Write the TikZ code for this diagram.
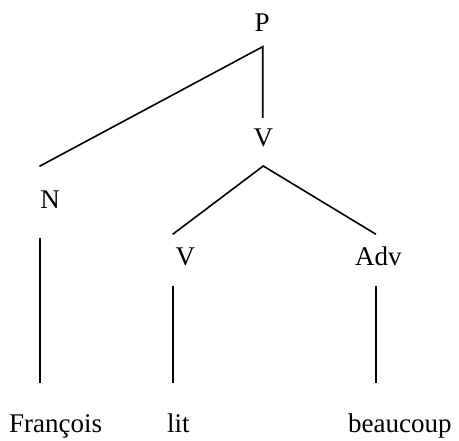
\documentclass[tikz,border=0pt]{standalone}
\usepackage{fontspec}
\setmainfont{Liberation Serif}
\begin{document}
\begin{tikzpicture}[x=1pt,y=-1pt,
  lbl/.style={anchor=base west,inner sep=0pt,font=\fontsize{27}{31}\selectfont},
  edge/.style={line width=1.6pt}]
\useasboundingbox (0,0) rectangle (459,441);
% labels
\node[lbl] (P) at (254.5,32) {P};
\node[lbl] (V1) at (253.3,147) {V};
\node[lbl] (N) at (40.3,208.3) {N};
\node[lbl] (V2) at (175.3,266) {V};
\node[lbl] (Adv) at (355,265.7) {Adv};
\node[lbl] (Fr) at (9,432.5) {François};
\node[lbl] (lit) at (167,432.5) {lit};
\node[lbl] (bc) at (348,432.5) {beaucoup};
% connector ends
\coordinate (Pb) at (262.7,46.7);
\coordinate (V1t) at (262.7,118);
\coordinate (Nt) at (39.5,166.3);
\coordinate (V1b) at (263.3,166);
\coordinate (V2t) at (172.7,234.3);
\coordinate (Advt) at (376,234.3);
\coordinate (Nb) at (39.7,237.7);
\coordinate (Frt) at (39.7,382.7);
\coordinate (V2b) at (173,285.7);
\coordinate (litt) at (173,382.7);
\coordinate (Advb) at (375.7,285.7);
\coordinate (bct) at (375.7,382.7);
% connectors
\draw[edge] (Nt) -- (Pb) -- (V1t);
\draw[edge] (V2t) -- (V1b) -- (Advt);
\draw[edge] (Nb) -- (Frt);
\draw[edge] (V2b) -- (litt);
\draw[edge] (Advb) -- (bct);
\end{tikzpicture}
\end{document}
